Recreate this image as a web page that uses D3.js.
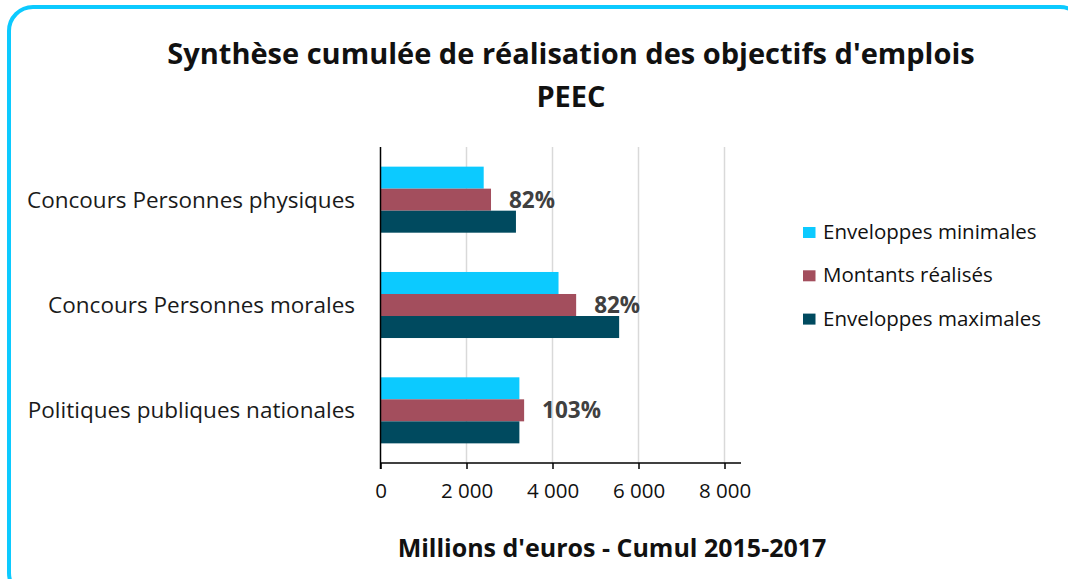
<!DOCTYPE html>
<html>
<head>
<meta charset="utf-8">
<script src="https://cdn.jsdelivr.net/npm/d3@7"></script>
<style>
  body { margin: 0; background: #fff; }
  svg { display: block; font-family: "Open Sans", "Noto Sans", sans-serif; }
</style>
</head>
<body>
<svg id="chart" width="1068" height="579"></svg>
<script>
const categories = ['Concours Personnes physiques', 'Concours Personnes morales', 'Politiques publiques nationales'];
const seriesNames = ['Enveloppes minimales', 'Montants réalisés', 'Enveloppes maximales'];
const envMin = [2400, 4140, 3230];
const realises = [2570, 4550, 3340];
const envMax = [3150, 5550, 3230];
const rateLabels = ['82%', '82%', '103%'];
const xTicks = [0, 2000, 4000, 6000, 8000];
const colors = ['#0ccaff', '#a34e5d', '#004a5f'];

const width = 1068, height = 579;
const margin = { top: 147, left: 380.5, right: 327, bottom: 116 };
const plotW = width - margin.left - margin.right;
const plotH = height - margin.top - margin.bottom;

const svg = d3.select('#chart');

// frame
svg.append('rect')
  .attr('x', 9).attr('y', 7)
  .attr('width', 1075).attr('height', 590)
  .attr('rx', 24).attr('ry', 24)
  .attr('fill', '#fff')
  .attr('stroke', '#0ccaff')
  .attr('stroke-width', 4);

// title
const title = svg.append('text')
  .attr('text-anchor', 'middle')
  .attr('font-size', 29)
  .attr('font-weight', 'bold')
  .attr('fill', '#111');
title.append('tspan').attr('x', 571).attr('y', 64).text("Synthèse cumulée de réalisation des objectifs d'emplois");
title.append('tspan').attr('x', 571).attr('y', 107).text('PEEC');

const x = d3.scaleLinear().domain([0, 8000]).range([0, 344]);
const y = d3.scaleBand().domain(categories).range([0, plotH]).paddingInner(0.373).paddingOuter(0.1865);
const ySub = d3.scaleBand().domain(d3.range(3)).range([0, y.bandwidth()]);

const g = svg.append('g').attr('transform', `translate(${margin.left},${margin.top})`);

// gridlines
g.selectAll('line.grid')
  .data(xTicks.slice(1))
  .enter()
  .append('line')
    .attr('class', 'grid')
    .attr('x1', d => x(d)).attr('x2', d => x(d))
    .attr('y1', 0).attr('y2', plotH)
    .attr('stroke', '#d9d9d9')
    .attr('stroke-width', 1.5);

const series = [envMin, realises, envMax];
categories.forEach((cat, ci) => {
  const cg = g.append('g').attr('transform', `translate(0,${y(cat)})`);
  cg.selectAll('rect')
    .data(series.map((s, si) => ({ si, value: s[ci] })))
    .enter()
    .append('rect')
      .attr('x', 0)
      .attr('y', d => ySub(d.si))
      .attr('width', d => x(d.value))
      .attr('height', ySub.bandwidth())
      .attr('fill', d => colors[d.si]);

  cg.append('text')
    .attr('x', x(realises[ci]) + 18)
    .attr('y', ySub(1) + ySub.bandwidth() / 2)
    .attr('dy', '0.35em')
    .attr('font-size', 22.5)
    .attr('font-weight', 'bold')
    .attr('fill', '#404040')
    .text(rateLabels[ci]);
});

// x axis
const xAxis = g.append('g')
  .attr('transform', `translate(0,${plotH})`)
  .call(d3.axisBottom(x).tickValues(xTicks).tickSize(6).tickSizeOuter(0)
    .tickFormat(d => d3.format(',')(d).replace(',', ' ')));
xAxis.select('.domain').attr('stroke', '#000').attr('stroke-width', 1.5).attr('d', `M0,0H${plotW}`);
xAxis.selectAll('.tick line').attr('stroke', '#000').attr('stroke-width', 1.5);
xAxis.selectAll('.tick text')
  .attr('font-size', 20.5)
  .attr('font-family', '"Open Sans", sans-serif')
  .attr('fill', '#111')
  .attr('y', 20)
  .attr('dy', '0.71em');

// y axis line
g.append('line')
  .attr('x1', 0).attr('x2', 0).attr('y1', 0).attr('y2', plotH + 6)
  .attr('stroke', '#000').attr('stroke-width', 1.5);

// category labels
g.selectAll('text.cat')
  .data(categories)
  .enter()
  .append('text')
    .attr('class', 'cat')
    .attr('x', -25.5)
    .attr('y', d => y(d) + y.bandwidth() / 2)
    .attr('dy', '0.35em')
    .attr('text-anchor', 'end')
    .attr('font-size', 22.5)
    .attr('fill', '#1a1a1a')
    .text(d => d);

// x axis title
svg.append('text')
  .attr('x', 612).attr('y', 557)
  .attr('text-anchor', 'middle')
  .attr('font-size', 25)
  .attr('font-weight', 'bold')
  .attr('fill', '#111')
  .text("Millions d'euros - Cumul 2015-2017");

// legend
const legend = svg.append('g').attr('transform', 'translate(803,232)');
const items = legend.selectAll('g')
  .data(seriesNames)
  .enter()
  .append('g')
    .attr('transform', (d, i) => `translate(0,${i * 43.3})`);
items.append('rect')
  .attr('x', 0).attr('y', -5)
  .attr('width', 12.5).attr('height', 11)
  .attr('fill', (d, i) => colors[i]);
items.append('text')
  .attr('x', 20).attr('dy', '0.35em')
  .attr('font-size', 20.5)
  .attr('fill', '#111')
  .text(d => d);
</script>
</body>
</html>
